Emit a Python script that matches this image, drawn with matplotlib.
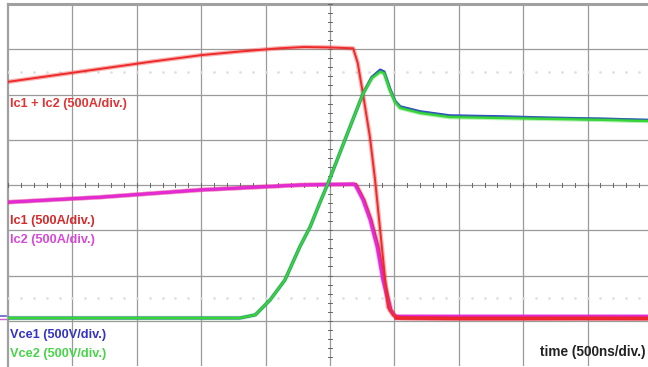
import numpy as np
import matplotlib
matplotlib.use("Agg")
import matplotlib.pyplot as plt
import matplotlib.patheffects as pe
from matplotlib.lines import Line2D

# ---- data (time in divisions of 500 ns, amplitude in screen divisions) ----
time_sum = [0, 0.75, 1.5, 2.25, 3.0, 3.6, 4.2, 4.6, 5.0, 5.36, 5.43, 5.51, 5.62, 5.70,
            5.90, 5.98, 6.10, 7.0, 8.0, 9.0, 10.0]
ic_sum = [6.28, 6.43, 6.58, 6.73, 6.87, 6.95, 7.02, 7.05, 7.04, 7.02, 6.70, 6.03, 5.06, 4.11,
          1.30, 1.12, 1.06, 1.05, 1.05, 1.06, 1.05]

time_ic2 = [0, 1.43, 2.98, 4.53, 5.36, 5.39, 5.51, 5.62, 5.73, 5.82, 5.93, 6.01, 7.0, 8.0, 10.0]
ic2 = [3.62, 3.73, 3.89, 4.00, 4.02, 4.00, 3.67, 3.23, 2.63, 1.90, 1.24, 1.10, 1.10, 1.10, 1.10]

time_ic1 = [0, 1.43, 2.98, 4.53, 5.38, 5.41, 5.53, 5.64, 5.75, 5.84, 5.95, 6.03, 7.0, 8.0, 10.0]
ic1 = [3.62, 3.73, 3.89, 4.00, 4.02, 4.00, 3.67, 3.23, 2.63, 1.90, 1.24, 1.06, 1.05, 1.05, 1.05]

time_vce1 = [0, 3.60, 3.84, 4.07, 4.30, 4.53, 4.69, 4.84, 4.97, 5.23, 5.51, 5.65, 5.78, 5.84,
             5.93, 6.01, 6.09, 6.40, 6.86, 7.64, 8.42, 9.19, 10.0]
vce1 = [1.06, 1.06, 1.13, 1.46, 1.90, 2.63, 3.07, 3.60, 4.04, 4.99, 6.01, 6.38, 6.54, 6.50,
        6.12, 5.85, 5.73, 5.62, 5.53, 5.51, 5.48, 5.46, 5.43]

time_vce2 = [0, 3.60, 3.84, 4.07, 4.30, 4.53, 4.69, 4.84, 4.97, 5.23, 5.51, 5.65, 5.78, 5.84,
             5.93, 6.01, 6.09, 6.40, 6.86, 7.64, 8.42, 9.19, 10.0]
vce2 = [1.06, 1.06, 1.13, 1.46, 1.90, 2.63, 3.07, 3.60, 4.04, 4.99, 6.01, 6.36, 6.50, 6.47,
        6.10, 5.83, 5.70, 5.59, 5.50, 5.48, 5.46, 5.44, 5.41]

labels = ["Ic1 + Ic2 (500A/div.)", "Ic1 (500A/div.)", "Ic2 (500A/div.)",
          "Vce1 (500V/div.)", "Vce2 (500V/div.)"]
time_label = "time (500ns/div.)"

# ---- figure ----
W, H = 648, 367
fig = plt.figure(figsize=(W / 100, H / 100), dpi=100)
fig.patch.set_facecolor("white")
x0, x1 = 8, 652
y0, y1 = 4, 366
ax = fig.add_axes([x0 / W, (H - y1) / H, (x1 - x0) / W, (y1 - y0) / H])
ax.set_xlim(0, 10)
ax.set_ylim(0, 8)
ax.axis("off")

gcol = "#9a9a9a"
for i in range(1, 10):
    ax.plot([i, i], [0, 8], color=gcol, lw=0.9, zorder=1)
for j in range(1, 8):
    ax.plot([0, 10], [j, j], color=gcol, lw=0.9, zorder=1)
ax.plot([0, 10], [8, 8], color="#a0a0a0", lw=2.2, zorder=1, clip_on=False)
ax.plot([0, 0], [0, 8], color="#a0a0a0", lw=1.6, zorder=1, clip_on=False)

# center crosshair ticks
minor = np.arange(0, 10.01, 0.2)
for t in minor:
    ax.plot([t, t], [3.95, 4.05], color="#666666", lw=0.7, zorder=1)
for t in np.arange(0, 8.01, 0.2):
    ax.plot([4.965, 5.035], [t, t], color="#666666", lw=0.7, zorder=1)
# faint dotted rows
for yy in (1.5, 6.5):
    ax.plot(minor, [yy] * len(minor), ls="none", marker="s", ms=0.8, color="#dcdcdc", zorder=1)

glow = lambda c: [pe.Stroke(linewidth=3.2, foreground=c, alpha=0.35), pe.Normal()]

ax.plot(time_ic1, ic1, color="#e8203a", lw=1.8, zorder=3, path_effects=glow("#e8203a"))
ax.plot(time_ic2, ic2, color="#e22ad6", lw=2.0, zorder=4, path_effects=glow("#e22ad6"))
ic1_tail = np.where(np.array(time_ic1) >= 6.0, ic1, np.nan)
ax.plot(time_ic1, ic1_tail, color="#ec1c3a", lw=2.2, zorder=5, path_effects=glow("#ec1c3a"))

ax.plot(time_sum, ic_sum, color="#ee2a2a", lw=1.4, zorder=6, path_effects=glow("#ee2a2a"))
ax.plot(time_vce1, vce1, color="#2a3cd0", lw=2.2, zorder=7)
ax.plot(time_vce2, vce2, color="#36d636", lw=1.6, zorder=8, path_effects=glow("#36d636"))

fnt = dict(family=["Liberation Sans", "DejaVu Sans"], weight="bold", fontsize=9.2,
           va="center", ha="left")
ax.text(0.03, 5.79, labels[0], color="#e03434", **fnt)
ax.text(0.03, 3.20, labels[1], color="#d42a2a", **fnt)
ax.text(0.03, 2.78, labels[2], color="#d648d6", **fnt)
ax.text(0.03, 0.69, labels[3], color="#3434c4", **fnt)
ax.text(0.03, 0.27, labels[4], color="#48d448", **fnt)
fig.text(645 / W, (H - 352) / H, time_label, color="#222222",
         family=["Liberation Sans", "DejaVu Sans"], weight="bold", fontsize=9.8,
         va="center", ha="right")

# channel ground marker at left edge
fig.add_artist(Line2D([0.0, 6 / W], [(H - 316) / H] * 2, color="#6060d0", lw=1.2))
fig.add_artist(Line2D([0.0, 6 / W], [(H - 319) / H] * 2, color="#d060d0", lw=1.0))

fig.savefig("out.png", dpi=100)
